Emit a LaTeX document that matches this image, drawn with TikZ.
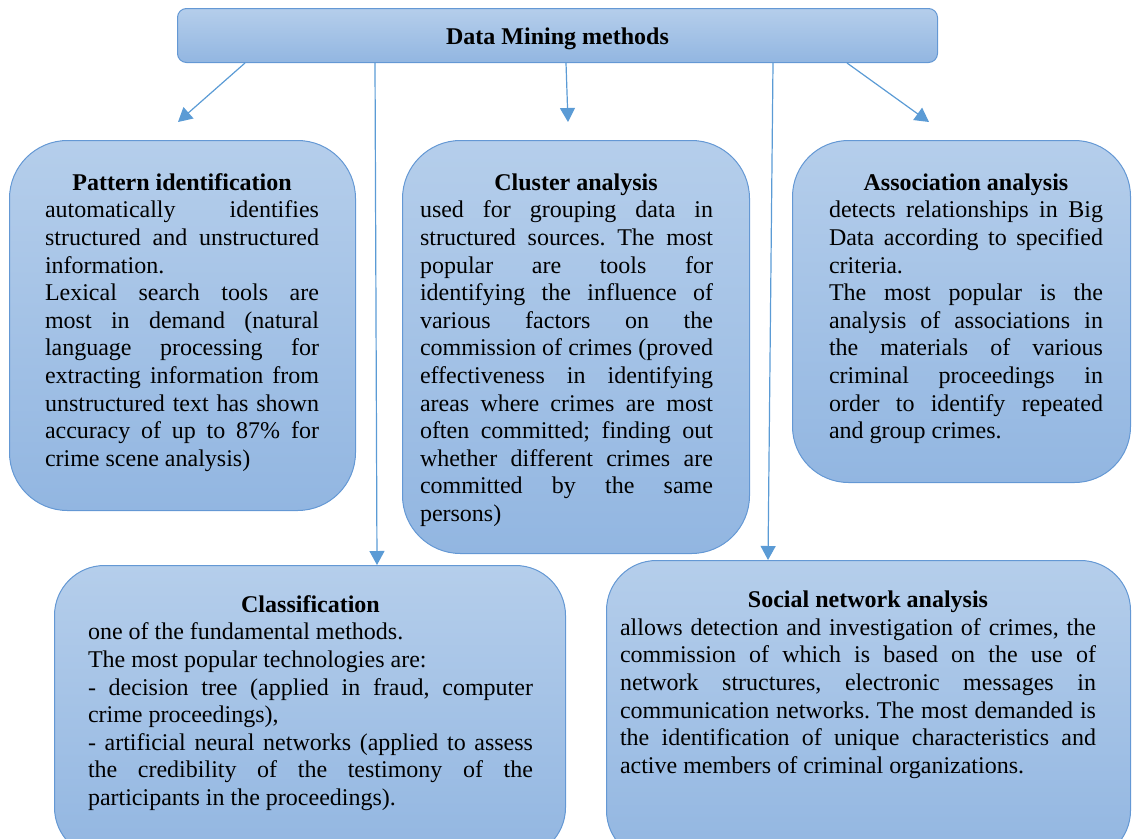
\documentclass[tikz,border=0pt]{standalone}
\usepackage{fontspec}
\setmainfont{Liberation Serif}
\usetikzlibrary{arrows.meta,calc}
\definecolor{bordc}{RGB}{100,152,212}
\definecolor{topc}{RGB}{181,206,235}
\definecolor{botc}{RGB}{146,182,225}
\definecolor{arrc}{RGB}{91,155,213}
\newcommand\jl[1]{{\spaceskip=0pt\xspaceskip=0pt\makebox[\linewidth][s]{#1}}}
\newcommand\ttl[2][0pt]{\makebox[\linewidth][c]{\strut\hspace*{#1}\bfseries #2}}
\begin{document}
\begin{tikzpicture}[x=1pt,y=-1pt,
  box/.style={draw=bordc, line width=1pt, top color=topc, bottom color=botc,
    anchor=north west, inner sep=0pt},
  txt/.style={anchor=north, inner sep=0pt, text width=#1, align=justify,
    font=\fontsize{24}{27.6}\selectfont\frenchspacing},
  arr/.style={draw=arrc, line width=1.2pt, -{Triangle[length=14pt,width=15pt]}}]
\useasboundingbox (0,0) rectangle (1132,838);
\clip (0,0) rectangle (1132,838);
% boxes
\node[box, rounded corners=9pt, minimum width=760pt, minimum height=54pt,
  text height=22pt, text depth=4.5pt,
  font=\fontsize{24}{27.6}\selectfont\bfseries] (top) at (177,8) {Data Mining methods};
\node[box, rounded corners=58pt, minimum width=346pt, minimum height=370pt] (pat) at (9,140) {};
\node[box, rounded corners=58pt, minimum width=347pt, minimum height=413pt] (clu) at (402,140) {};
\node[box, rounded corners=56pt, minimum width=338pt, minimum height=342pt] (ass) at (792,140) {};
\node[box, rounded corners=50pt, minimum width=511pt, minimum height=292pt] (cls) at (54,565) {};
\node[box, rounded corners=50pt, minimum width=524pt, minimum height=300pt] (soc) at (606,560) {};
% texts
\node[txt=274pt] (patT) at (182,170.7) {%
\ttl{Pattern identification}\\
\jl{automatically identifies}\\
\jl{structured and unstructured}\\
information.\\
\jl{Lexical search tools are}\\
\jl{most in demand (natural}\\
\jl{language processing for}\\
\jl{extracting information from}\\
\jl{unstructured text has shown}\\
\jl{accuracy of up to 87\% for}\\
crime scene analysis)};
\node[txt=293pt] (cluT) at (566.5,170.7) {%
\ttl[19pt]{Cluster analysis}\\
\jl{used for grouping data in}\\
\jl{structured sources. The most}\\
\jl{popular are tools for}\\
\jl{identifying the influence of}\\
\jl{various factors on the}\\
\jl{commission of crimes (proved}\\
\jl{effectiveness in identifying}\\
\jl{areas where crimes are most}\\
\jl{often committed; finding out}\\
\jl{whether different crimes are}\\
\jl{committed by the same}\\
persons)};
\node[txt=274pt] (assT) at (966,170.7) {%
\ttl{Association analysis}\\
\jl{detects relationships in Big}\\
\jl{Data according to specified}\\
criteria.\\
\jl{The most popular is the}\\
\jl{analysis of associations in}\\
\jl{the materials of various}\\
\jl{criminal proceedings in}\\
\jl{order to identify repeated}\\
and group crimes.};
\node[txt=445pt] (clsT) at (310.5,592.7) {%
\ttl{Classification}\\
one of the fundamental methods.\\
The most popular technologies are:\\
\jl{- decision tree (applied in fraud, computer}\\
crime proceedings),\\
\jl{- artificial neural networks (applied to assess}\\
\jl{the credibility of the testimony of the}\\
participants in the proceedings).};
\node[txt=476pt] (socT) at (858,588.2) {%
\ttl[20pt]{Social network analysis}\\
\jl{allows detection and investigation of crimes, the}\\
\jl{commission of which is based on the use of}\\
\jl{network structures, electronic messages in}\\
\jl{communication networks. The most demanded is}\\
\jl{the identification of unique characteristics and}\\
active members of criminal organizations.};
% arrows
\coordinate (a1e) at (178,122);
\coordinate (a3e) at (568,122);
\coordinate (a5e) at (929,122);
\draw[arr] ($(top.south west)+(68,0)$) -- (a1e);
\draw[arr] ($(top.south west)+(198,0)$) -- ($(cls.north west)+(323,0)$);
\draw[arr] ($(top.south west)+(389,0)$) -- (a3e);
\draw[arr] ($(top.south west)+(596,0)$) -- ($(soc.north west)+(162,0)$);
\draw[arr] ($(top.south west)+(670,0)$) -- (a5e);
\end{tikzpicture}
\end{document}
